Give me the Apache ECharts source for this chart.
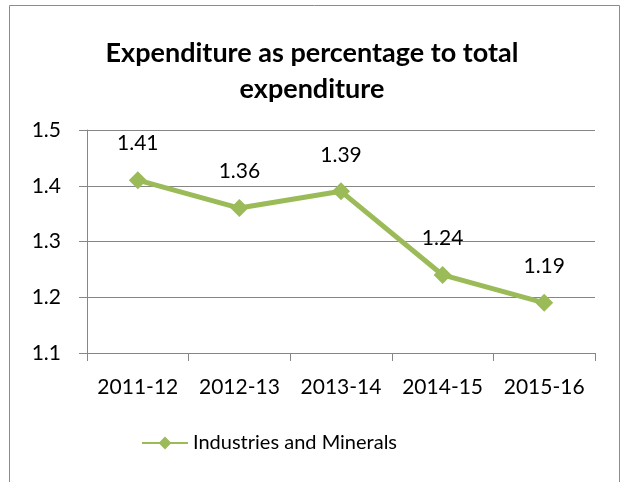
<!DOCTYPE html>
<html>
<head>
<meta charset="utf-8">
<script src="https://cdn.jsdelivr.net/npm/echarts@6/dist/echarts.min.js"></script>
<style>
  html, body { margin: 0; padding: 0; background: #fff; }
  #chart { width: 624px; height: 482px; }
</style>
</head>
<body>
<div id="chart"></div>
<script>
  // data
  const categories = ['2011-12', '2012-13', '2013-14', '2014-15', '2015-16'];
  const seriesName = 'Industries and Minerals';
  const values = [1.41, 1.36, 1.39, 1.24, 1.19];
  const yMin = 1.1, yMax = 1.5, yStep = 0.1;

  const font = 'Lato, "Open Sans", sans-serif';
  const chart = echarts.init(document.getElementById('chart'));
  chart.setOption({
    animation: false,
    textStyle: { fontFamily: font },
    graphic: [
      {
        type: 'rect',
        shape: { x: 9.5, y: 5.5, width: 610, height: 490 },
        style: { fill: 'none', stroke: '#8c8c8c', lineWidth: 1 },
        silent: true
      }
    ],
    title: {
      text: 'Expenditure as percentage to total\nexpenditure',
      left: 'center',
      top: 30,
      textStyle: {
        fontFamily: font,
        fontSize: 27,
        fontWeight: 'bold',
        color: '#000',
        lineHeight: 36
      }
    },
    legend: {
      data: [seriesName],
      bottom: 24,
      left: 136,
      itemWidth: 46,
      itemHeight: 16,
      itemGap: 4,
      textStyle: { fontFamily: font, fontSize: 20, color: '#000' }
    },
    grid: { left: 87, right: 29, top: 130, bottom: 129 },
    xAxis: {
      type: 'category',
      data: categories,
      boundaryGap: true,
      axisLine: { lineStyle: { color: '#868686' } },
      axisTick: { show: true, length: 8, lineStyle: { color: '#868686' } },
      axisLabel: { fontFamily: font, fontSize: 21, color: '#000', margin: 24, interval: 0 }
    },
    yAxis: {
      type: 'value',
      min: yMin,
      max: yMax,
      interval: yStep,
      axisLine: { show: true, lineStyle: { color: '#868686' } },
      axisTick: { show: true, length: 8, lineStyle: { color: '#868686' } },
      splitLine: { lineStyle: { color: '#868686' } },
      axisLabel: {
        fontFamily: font, fontSize: 21, color: '#000', margin: 26,
        formatter: v => v.toFixed(1)
      }
    },
    series: [
      {
        name: seriesName,
        type: 'line',
        data: values,
        symbol: 'diamond',
        symbolSize: 18,
        itemStyle: { color: '#9bbb59' },
        lineStyle: { color: '#9bbb59', width: 5 },
        label: {
          show: true,
          position: 'top',
          distance: 17,
          fontFamily: font,
          fontSize: 21,
          color: '#000',
          formatter: p => p.value.toFixed(2)
        }
      }
    ]
  });
</script>
</body>
</html>
